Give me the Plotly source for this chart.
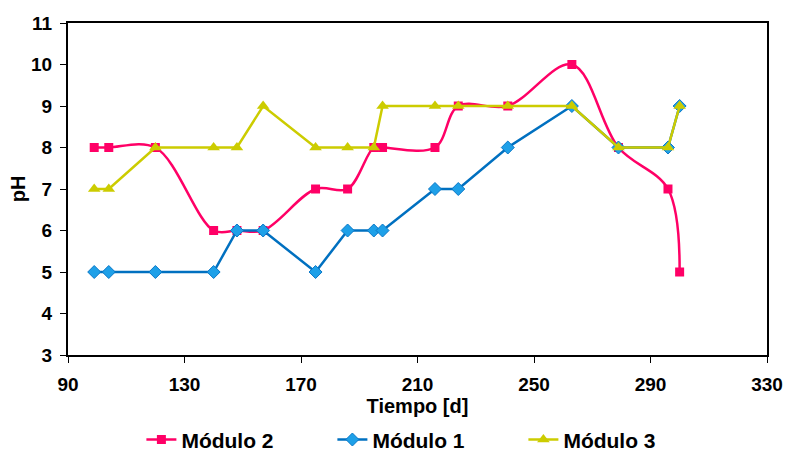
import plotly.graph_objects as go

tiempo = [99, 104, 120, 140, 148, 157, 175, 186, 195, 198, 216, 224, 241, 263, 279, 296, 300]
modulo2 = [8, 8, 8, 6, 6, 6, 7, 7, 8, 8, 8, 9, 9, 10, 8, 7, 5]
modulo1 = [5, 5, 5, 5, 6, 6, 5, 6, 6, 6, 7, 7, 8, 9, 8, 8, 9]
modulo3 = [7, 7, 8, 8, 8, 9, 8, 8, 8, 9, 9, 9, 9, 9, 8, 8, 9]

x_ticks = [90, 130, 170, 210, 250, 290, 330]
y_ticks = [3, 4, 5, 6, 7, 8, 9, 10, 11]

FONT = "Liberation Sans, Arial, sans-serif"

fig = go.Figure()
fig.add_trace(go.Scatter(
    x=tiempo, y=modulo2, name="<b>Módulo 2</b>", mode="lines+markers",
    line=dict(color="#FF0066", width=2.5, shape="spline", smoothing=1.0),
    marker=dict(symbol="square", size=9, color="#FF0066"),
))
fig.add_trace(go.Scatter(
    x=tiempo, y=modulo1, name="<b>Módulo 1</b>", mode="lines+markers",
    line=dict(color="#0070C0", width=2.5),
    marker=dict(symbol="diamond", size=10, color="#1EA0E8",
                line=dict(color="#0A78C8", width=1)),
))
fig.add_trace(go.Scatter(
    x=tiempo, y=modulo3, name="<b>Módulo 3</b>", mode="lines+markers",
    line=dict(color="#CCCC00", width=2.5),
    marker=dict(symbol="triangle-up", size=11, color="#CCCC00"),
))

axis_common = dict(
    showline=True, linecolor="black", linewidth=2, mirror=True,
    ticks="outside", ticklen=6, tickwidth=1, tickcolor="black",
    showgrid=False, zeroline=False,
    tickfont=dict(family=FONT, size=19, color="black"),
)

fig.update_layout(
    width=787, height=453,
    margin=dict(l=68, r=20, t=23, b=98, autoexpand=False),
    paper_bgcolor="white", plot_bgcolor="white",
    font=dict(family=FONT, color="black"),
    xaxis=dict(range=[90, 330], tickvals=x_ticks,
               ticktext=[f"<b>{v}</b>" for v in x_ticks],
               ticklabelstandoff=5,
               title=dict(text="<b>Tiempo [d]</b>", font=dict(family=FONT, size=20), standoff=2),
               **axis_common),
    yaxis=dict(range=[3, 11], tickvals=y_ticks,
               ticktext=[f"<b>{v}</b>" for v in y_ticks],
               ticklabelstandoff=4,
               title=dict(text="<b>pH</b>", font=dict(family=FONT, size=20), standoff=0),
               **axis_common),
    legend=dict(orientation="h", x=0.105, xanchor="left",
                yref="container", y=0.029, yanchor="middle",
                font=dict(family=FONT, size=21, color="black"),
                entrywidth=146, entrywidthmode="pixels", itemwidth=30,
                bgcolor="rgba(0,0,0,0)"),
    showlegend=True,
)

fig.write_html("out.html")
